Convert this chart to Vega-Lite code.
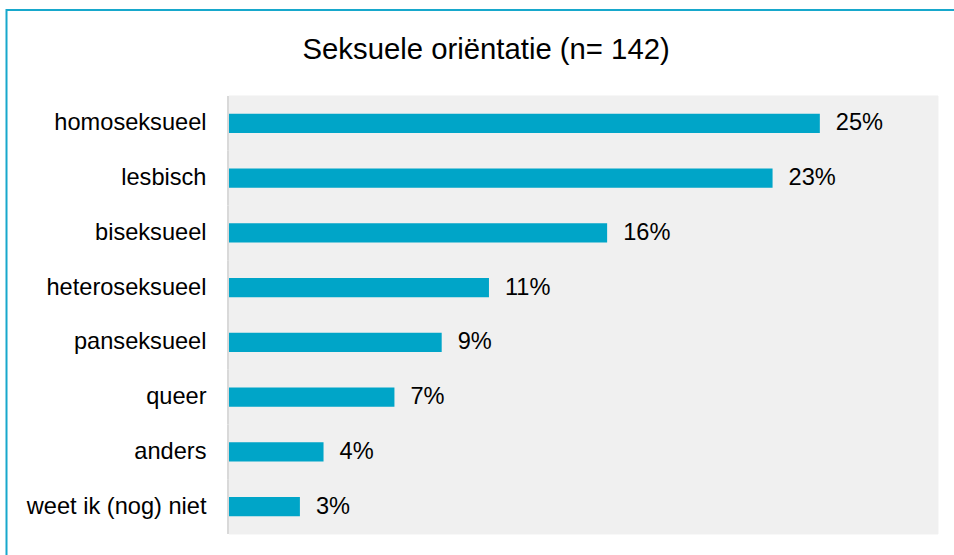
{
  "$schema": "https://vega.github.io/schema/vega-lite/v6.json",
  "usermeta": {"embedOptions": {"actions": false}},
  "autosize": {"type": "none"},
  "width": 1000,
  "height": 547.5,
  "padding": {"left": 6.5, "top": 10, "right": -52.5, "bottom": -2.5},
  "background": "#ffffff",
  "config": {
    "view": {"stroke": "#17a8cc", "strokeWidth": 2, "fill": "#ffffff"},
    "font": "Liberation Sans"
  },
  "title": {
    "text": "Seksuele oriëntatie (n= 142)",
    "anchor": "start",
    "frame": "group",
    "align": "left",
    "dx": 296,
    "baseline": "alphabetic",
    "offset": -78,
    "font": "Liberation Sans",
    "fontSize": 29.3,
    "fontWeight": "normal",
    "color": "#000000"
  },
  "data": {
    "values": [
      {"categorie": "homoseksueel", "pct": 0.25},
      {"categorie": "lesbisch", "pct": 0.23},
      {"categorie": "biseksueel", "pct": 0.16},
      {"categorie": "heteroseksueel", "pct": 0.11},
      {"categorie": "panseksueel", "pct": 0.09},
      {"categorie": "queer", "pct": 0.07},
      {"categorie": "anders", "pct": 0.04},
      {"categorie": "weet ik (nog) niet", "pct": 0.03}
    ]
  },
  "encoding": {
    "y": {"field": "categorie", "type": "nominal", "sort": null,
          "scale": {"type": "band", "paddingInner": 0, "paddingOuter": 1, "align": 0.785},
          "axis": {"orient": "left", "title": null, "domain": false, "ticks": false,
                   "labelPadding": 0, "offset": -199.5,
                   "labelFont": "Liberation Sans", "labelFontSize": 23.6,
                   "labelColor": "#000000", "labelLimit": 400}}
  },
  "layer": [
    {
      "mark": {"type": "bar", "color": "#f0f0f0", "stroke": "#f0f0f0", "strokeWidth": 1},
      "encoding": {
        "x": {"datum": 0, "type": "quantitative",
              "scale": {"domain": [-0.094146, 0.328985], "nice": false, "zero": false},
              "axis": null},
        "x2": {"datum": 0.30}
      }
    },
    {
      "mark": {"type": "bar", "color": "#d9d9d9"},
      "encoding": {
        "x": {"datum": -0.00085, "type": "quantitative"},
        "x2": {"datum": 0}
      }
    },
    {
      "mark": {"type": "bar", "color": "#00a5c8", "height": {"band": 0.3525}},
      "encoding": {
        "x": {"field": "pct", "type": "quantitative"},
        "x2": {"datum": 0}
      }
    },
    {
      "mark": {"type": "text", "align": "left", "baseline": "middle", "dx": 16, "dy": 0,
               "font": "Liberation Sans", "fontSize": 23.6, "color": "#000000"},
      "encoding": {
        "x": {"field": "pct", "type": "quantitative"},
        "text": {"field": "pct", "type": "quantitative", "format": ".0%"}
      }
    }
  ]
}
